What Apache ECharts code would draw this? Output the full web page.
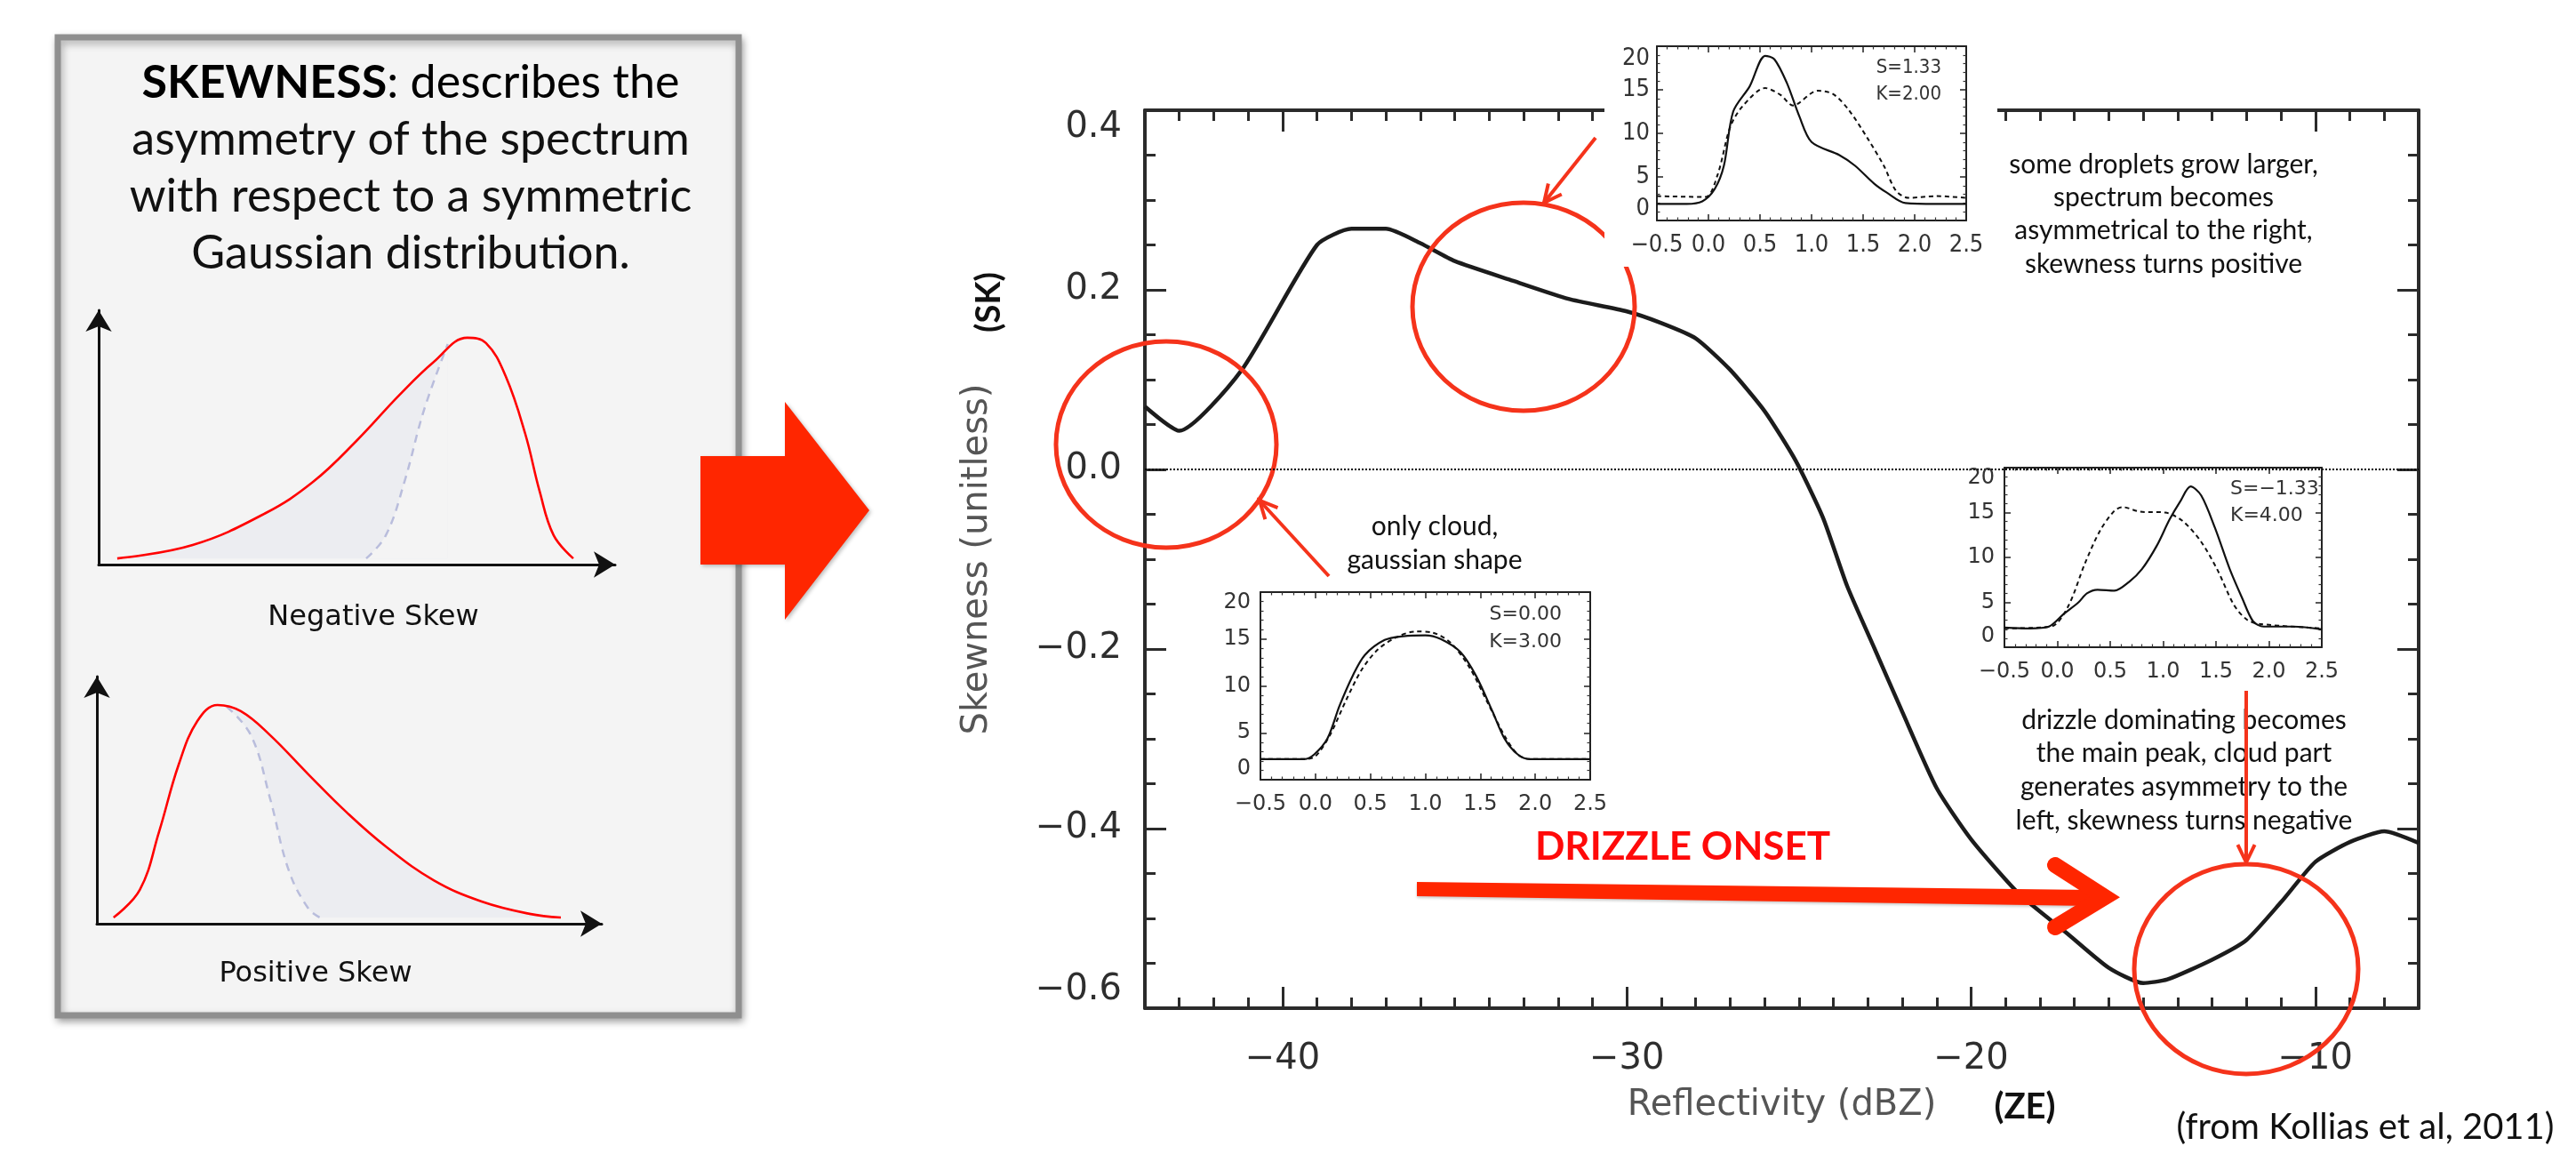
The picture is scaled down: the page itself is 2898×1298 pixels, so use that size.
<!DOCTYPE html>
<html>
<head>
<meta charset="utf-8">
<title>Skewness vs reflectivity</title>
<script src="https://cdn.jsdelivr.net/npm/echarts@6.0.0/dist/echarts.min.js"></script>
<style>
  html, body { margin: 0; padding: 0; background: #fff; }
  #chart { width: 2898px; height: 1298px; }
</style>
</head>
<body>
<div id="chart"></div>
<script>
// main curve: skewness against radar reflectivity
const reflectivity = [-44, -43, -41.2, -39, -38, -37, -36, -35, -33.3, -31.7, -30, -29, -28, -27, -26, -25.1, -24.3, -23.6, -22.8, -22, -21, -20, -18.6, -17.2, -16, -15, -14.3, -13, -12, -11, -10, -9, -8, -7]
const skewness = [0.070, 0.043, 0.110, 0.250, 0.268, 0.268, 0.252, 0.232, 0.210, 0.190, 0.176, 0.163, 0.146, 0.111, 0.065, 0.010, -0.054, -0.130, -0.200, -0.270, -0.355, -0.412, -0.473, -0.517, -0.555, -0.572, -0.568, -0.546, -0.524, -0.482, -0.437, -0.415, -0.403, -0.416]
const xMajorTicks = [-40, -30, -20, -10]

// inset spectra (velocity, power)
const s1SolidX = [-0.5, -0.21, -0.06, 0.06, 0.15, 0.24, 0.40, 0.55, 0.64, 0.76, 0.88, 1.0, 1.27, 1.42, 1.61, 1.73, 1.91, 2.21, 2.5]
const s1SolidY = [1.9, 1.9, 2.2, 3.6, 6.3, 12.5, 15.4, 18.9, 18.5, 15.8, 12.0, 9.0, 7.5, 6.3, 4.2, 3.2, 2.0, 1.9, 1.9]
const s1DashX = [-0.5, -0.03, 0.09, 0.21, 0.33, 0.55, 0.70, 0.82, 1.06, 1.21, 1.36, 1.55, 1.70, 1.82, 1.94, 2.21, 2.5]
const s1DashY = [2.8, 2.7, 5.3, 10.7, 13.1, 15.2, 14.4, 13.2, 14.9, 14.5, 12.7, 9.3, 6.3, 3.4, 2.6, 2.8, 2.6]

const s2SolidX = [-0.5, -0.1, -0.01, 0.11, 0.22, 0.34, 0.45, 0.63, 0.80, 1.0, 1.14, 1.32, 1.46, 1.61, 1.72, 1.84, 1.95, 2.5]
const s2SolidY = [2.2, 2.2, 2.7, 4.4, 7.9, 11.1, 13.3, 14.9, 15.3, 15.4, 15.0, 13.6, 11.1, 7.3, 4.4, 2.7, 2.2, 2.2]
const s2DashX = [-0.5, -0.1, 0.0, 0.13, 0.28, 0.42, 0.57, 0.74, 0.91, 1.06, 1.23, 1.40, 1.58, 1.72, 1.84, 1.95, 2.5]
const s2DashY = [2.2, 2.2, 2.5, 4.7, 8.5, 11.7, 13.9, 15.2, 15.8, 15.7, 14.6, 12.0, 7.9, 4.7, 2.7, 2.2, 2.2]

const s3SolidX = [-0.5, -0.26, -0.08, 0.06, 0.20, 0.28, 0.38, 0.54, 0.68, 0.80, 0.94, 1.06, 1.16, 1.26, 1.36, 1.49, 1.63, 1.75, 1.85, 1.95, 2.23, 2.5]
const s3SolidY = [2.2, 2.1, 2.3, 3.7, 5.0, 6.0, 6.4, 6.3, 7.3, 8.7, 11.3, 14.2, 16.2, 17.9, 16.9, 13.3, 8.7, 5.4, 2.9, 2.3, 2.3, 2.0]
const s3DashX = [-0.5, -0.06, 0.10, 0.26, 0.40, 0.54, 0.62, 0.78, 1.02, 1.18, 1.35, 1.51, 1.67, 1.79, 1.91, 2.5]
const s3DashY = [2.1, 2.3, 4.5, 9.3, 12.9, 15.2, 15.6, 15.1, 15.0, 14.1, 11.9, 8.7, 4.7, 3.1, 2.6, 2.1]

// sketch curves of the left panel (arbitrary units 0..10)
const negRedX = [0.36, 1.82, 3.22, 4.15, 4.99, 5.83, 6.49, 7.14, 7.50, 7.88, 8.26, 8.54, 8.81, 9.19]
const negRedY = [0.24, 0.77, 2.01, 3.25, 4.86, 6.68, 7.97, 8.92, 8.71, 7.41, 5.14, 2.87, 1.15, 0.24]
const negDashX = [5.18, 5.56, 5.92, 6.30, 6.76]
const negDashY = [0.24, 1.15, 3.25, 6.08, 8.67]
const posRedX = [0.33, 0.85, 1.23, 1.62, 1.99, 2.39, 2.85, 3.43, 4.19, 4.95, 5.72, 6.67, 7.62, 8.57, 9.19]
const posRedY = [0.25, 1.37, 3.71, 6.44, 8.20, 8.85, 8.60, 7.63, 6.04, 4.50, 3.13, 1.76, 0.90, 0.40, 0.25]
const posDashX = [2.57, 3.05, 3.43, 3.80, 4.19, 4.42]
const posDashY = [8.78, 7.63, 5.07, 2.16, 0.61, 0.25]

const zip = (xs, ys) => xs.map((x, i) => [x, ys[i]])
const fmtDec = v => (v < 0 ? '\u2212' : '') + Math.abs(v).toFixed(1)
const fmtInt = v => (v < 0 ? '\u2212' : '') + Math.abs(v)

const AX = '#2b2b2b'
const RED = '#f5331b'
const HERSHEY = "'DejaVu Sans', sans-serif"
const NARROW = "'Liberation Sans Narrow', 'DejaVu Sans Condensed', 'DejaVu Sans', sans-serif"
const CAL = "Lato, 'Open Sans', sans-serif"

const xAxes = []
const yAxes = []
const addX = cfg => { xAxes.push(Object.assign({ type: 'value', splitLine: { show: false } }, cfg)); return xAxes.length - 1 }
const addY = cfg => { yAxes.push(Object.assign({ type: 'value', splitLine: { show: false } }, cfg)); return yAxes.length - 1 }

// main plot: box axes with long major / short minor ticks on every side
const mainLine = { show: true, onZero: false, lineStyle: { color: AX, width: 4 } }
const noLine = { show: false, onZero: false }
const shortTick = { show: true, inside: true, length: 12, lineStyle: { color: AX, width: 3 } }
const longTick = { show: true, inside: true, length: 24, customValues: xMajorTicks, lineStyle: { color: AX, width: 3 } }
const mainX = addX({
  gridIndex: 0, position: 'bottom', min: -44, max: -7, interval: 1,
  axisLine: mainLine, axisTick: shortTick,
  axisLabel: { customValues: xMajorTicks, formatter: fmtInt, margin: 38, fontFamily: HERSHEY, fontSize: 40, color: '#2e2e2e' },
  name: 'Reflectivity (dBZ)', nameLocation: 'middle', nameGap: 90,
  nameTextStyle: { fontFamily: HERSHEY, fontSize: 40, color: '#555' }
})
addX({ gridIndex: 0, position: 'bottom', min: -44, max: -7, interval: 1, axisLine: noLine, axisTick: longTick, axisLabel: { show: false } })
addX({ gridIndex: 0, position: 'top', min: -44, max: -7, interval: 1, axisLine: mainLine, axisTick: shortTick, axisLabel: { show: false } })
addX({ gridIndex: 0, position: 'top', min: -44, max: -7, interval: 1, axisLine: noLine, axisTick: longTick, axisLabel: { show: false } })
const yMain = {
  min: -0.6, max: 0.4, interval: 0.2, axisLine: mainLine,
  axisTick: { show: true, inside: true, length: 24, lineStyle: { color: AX, width: 3 } },
  minorTick: { show: true, splitNumber: 4, length: 12, lineStyle: { color: AX, width: 3 } }
}
const mainY = addY(Object.assign({
  gridIndex: 0, position: 'left',
  axisLabel: { formatter: fmtDec, margin: 26, fontFamily: HERSHEY, fontSize: 40, color: '#2e2e2e', verticalAlignMaxLabel: 'top', verticalAlignMinLabel: 'bottom' },
  name: 'Skewness (unitless)', nameLocation: 'middle', nameGap: 168, nameRotate: 90,
  nameTextStyle: { fontFamily: HERSHEY, fontSize: 40, color: '#555' }
}, yMain))
addY(Object.assign({ gridIndex: 0, position: 'right', axisLabel: { show: false } }, yMain))

// small IDL-style spectrum boxes
function insetAxes (grid, font, size, xMargin, yMargin) {
  const line = { show: true, onZero: false, lineStyle: { color: '#222', width: 2 } }
  const tick = { show: true, inside: true, length: 7, lineStyle: { color: '#222', width: 1.5 } }
  const minor = { show: true, splitNumber: 5, length: 3.5, lineStyle: { color: '#333', width: 1.2 } }
  const lab = { fontFamily: font, fontSize: size, color: '#333' }
  const xr = { gridIndex: grid, z: 6, min: -0.5, max: 2.5, interval: 0.5, axisLine: line, axisTick: tick, minorTick: minor }
  const yr = { gridIndex: grid, z: 6, min: 0, max: 20, interval: 5, axisLine: line, axisTick: tick, minorTick: minor }
  const xi = addX(Object.assign({ position: 'bottom', axisLabel: Object.assign({ margin: xMargin, formatter: fmtDec }, lab) }, xr))
  addX(Object.assign({ position: 'top', axisLabel: { show: false } }, xr))
  const yi = addY(Object.assign({ position: 'left', axisLabel: Object.assign({ margin: yMargin, verticalAlignMaxLabel: 'top', verticalAlignMinLabel: 'bottom' }, lab) }, yr))
  addY(Object.assign({ position: 'right', axisLabel: { show: false } }, yr))
  return [xi, yi]
}
const in1 = insetAxes(1, NARROW, 27, 14, 8)
const in2 = insetAxes(2, HERSHEY, 24, 16, 11)
const in3 = insetAxes(3, HERSHEY, 24, 16, 11)

// arrow axes of the left sketches
function sketchAxes (grid) {
  const line = { show: true, onZero: false, symbol: ['none', 'arrow'], symbolSize: [22, 24], lineStyle: { color: '#111', width: 3 } }
  const base = { gridIndex: grid, z: 3, min: 0, max: 10, axisLine: line, axisTick: { show: false }, axisLabel: { show: false } }
  return [addX(Object.assign({}, base)), addY(Object.assign({}, base))]
}
const skNeg = sketchAxes(4)
const skPos = sketchAxes(5)

const negJoin = [negDashX[negDashX.length - 1], negDashY[negDashY.length - 1]]
const negFill = zip(negRedX, negRedY).filter(p => p[0] < negJoin[0]).concat([negJoin])
const posJoin = [posDashX[0], posDashY[0]]
const posFill = [posJoin].concat(zip(posRedX, posRedY).filter(p => p[0] > posJoin[0]))

function spectrum (ax, xs, ys, dashed) {
  return {
    type: 'line', xAxisIndex: ax[0], yAxisIndex: ax[1], z: 6, data: zip(xs, ys),
    showSymbol: false, smooth: 0.3, silent: true,
    lineStyle: { color: '#111', width: dashed ? 2 : 2.2, type: dashed ? [5, 4] : 'solid' }
  }
}
function sketch (ax, data, opt) {
  return Object.assign({ type: 'line', xAxisIndex: ax[0], yAxisIndex: ax[1], data: data, showSymbol: false, smooth: 0.4, silent: true }, opt)
}

const series = [
  {
    type: 'line', xAxisIndex: mainX, yAxisIndex: mainY, z: 1,
    data: zip(reflectivity, skewness), showSymbol: false, smooth: 0.2, silent: true,
    lineStyle: { color: '#1c1c1c', width: 4.5 },
    markLine: {
      silent: true, symbol: ['none', 'none'], label: { show: false },
      lineStyle: { type: [2, 2], color: '#000', width: 2 },
      data: [{ yAxis: 0 }]
    }
  },
  spectrum(in1, s1SolidX, s1SolidY, false),
  spectrum(in1, s1DashX, s1DashY, true),
  spectrum(in2, s2SolidX, s2SolidY, false),
  spectrum(in2, s2DashX, s2DashY, true),
  spectrum(in3, s3SolidX, s3SolidY, false),
  spectrum(in3, s3DashX, s3DashY, true),
  // negative skew sketch: shaded tail, masked under the dashed gaussian
  sketch(skNeg, negFill, { z: 2, lineStyle: { width: 0 }, areaStyle: { color: '#ecedf1', opacity: 1, origin: 0.24 } }),
  sketch(skNeg, zip(negDashX, negDashY), { z: 3, lineStyle: { color: '#b9bddc', width: 2.5, type: [9, 7] }, areaStyle: { color: '#f4f4f4', opacity: 1, origin: 0.24 } }),
  sketch(skNeg, zip(negRedX, negRedY), { z: 4, lineStyle: { color: '#f00', width: 2.6 } }),
  sketch(skPos, posFill, { z: 2, lineStyle: { width: 0 }, areaStyle: { color: '#ecedf1', opacity: 1, origin: 0.25 } }),
  sketch(skPos, zip(posDashX, posDashY), { z: 3, lineStyle: { color: '#b9bddc', width: 2.5, type: [9, 7] }, areaStyle: { color: '#f4f4f4', opacity: 1, origin: 0.25 } }),
  sketch(skPos, zip(posRedX, posRedY), { z: 4, lineStyle: { color: '#f00', width: 2.6 } })
]

// annotation helpers
function arrow (x1, y1, x2, y2) {
  const a = Math.atan2(y2 - y1, x2 - x1)
  const L = 22
  const h1 = [x2 - L * Math.cos(a - 0.45), y2 - L * Math.sin(a - 0.45)]
  const h2 = [x2 - L * Math.cos(a + 0.45), y2 - L * Math.sin(a + 0.45)]
  return [
    { type: 'line', z: 9, shape: { x1: x1, y1: y1, x2: x2, y2: y2 }, style: { stroke: RED, lineWidth: 4 } },
    { type: 'polyline', z: 9, shape: { points: [h1, [x2, y2], h2] }, style: { stroke: RED, lineWidth: 4, fill: 'none' } }
  ]
}
function txt (x, y, text, font, extra) {
  return Object.assign({ type: 'text', z: 8, x: x, y: y, style: { text: text, font: font, fill: '#111', align: 'center', verticalAlign: 'middle' } }, extra || {})
}
function side (x, y, text, font, align) {
  return txt(x, y, text, font, { style: { text: text, font: font, fill: '#333', align: align, verticalAlign: 'middle' } })
}
function ring (cx, cy, rx, ry) {
  return { type: 'ellipse', z: 2, shape: { cx: cx, cy: cy, rx: rx, ry: ry }, style: { stroke: RED, lineWidth: 5, fill: 'none' } }
}
function cover (x, y, w, h) {
  return { type: 'rect', z: 3, shape: { x: x, y: y, width: w, height: h }, style: { fill: '#fff' } }
}

const note = '30px ' + CAL
const head = '52px ' + CAL
const graphic = [
  { type: 'rect', z: 0, shape: { x: 65, y: 42, width: 766, height: 1100 }, style: { fill: '#f4f4f4', stroke: '#8f8f8f', lineWidth: 7, shadowBlur: 8, shadowOffsetX: 2, shadowOffsetY: 4, shadowColor: 'rgba(0,0,0,0.3)' } },
  txt(462, 93, '', head, { style: { text: '{b|SKEWNESS}: describes the', font: head, fill: '#000', align: 'center', verticalAlign: 'middle', rich: { b: { fontWeight: 'bold', fontFamily: CAL, fontSize: 52, fill: '#000' } } } }),
  txt(462, 157, 'asymmetry of the spectrum', head),
  txt(462, 221, 'with respect to a symmetric', head),
  txt(462, 285, 'Gaussian distribution.', head),
  txt(420, 695, 'Negative Skew', '32px ' + HERSHEY),
  txt(355, 1096, 'Positive Skew', '32px ' + HERSHEY),

  { type: 'polygon', z: 10, shape: { points: [[788, 513], [883, 513], [883, 452], [978, 574], [883, 697], [883, 635], [788, 635]] }, style: { fill: '#ff2600', shadowBlur: 4, shadowOffsetX: 2, shadowOffsetY: 2, shadowColor: 'rgba(0,0,0,0.25)' } },

  ring(1312, 500, 124, 116),
  ring(1714, 345, 125, 117),
  ring(2527, 1090, 126, 118),
  cover(1805, 0, 442, 300),
  cover(1372, 645, 460, 280),
  cover(2198, 505, 453, 270),

  txt(1113, 340, '(SK)', 'bold 38px ' + CAL, { rotation: Math.PI / 2 }),
  txt(2278, 1245, '(ZE)', 'bold 40px ' + CAL),
  txt(2661, 1268, '(from Kollias et al, 2011)', '40px ' + CAL),

  txt(1614, 592, 'only cloud,', note),
  txt(1614, 630, 'gaussian shape', note),
  txt(2434, 185, 'some droplets grow larger,', note),
  txt(2434, 222, 'spectrum becomes', note),
  txt(2434, 259, 'asymmetrical to the right,', note),
  txt(2434, 297, 'skewness turns positive', note),
  txt(2457, 810, 'drizzle dominating becomes', note),
  txt(2457, 847, 'the main peak, cloud part', note),
  txt(2457, 885, 'generates asymmetry to the', note),
  txt(2457, 923, 'left, skewness turns negative', note),

  side(2184, 76, 'S=1.33', '22px ' + NARROW, 'right'),
  side(2184, 106, 'K=2.00', '22px ' + NARROW, 'right'),
  side(1757, 691, 'S=0.00', '22px ' + HERSHEY, 'right'),
  side(1757, 722, 'K=3.00', '22px ' + HERSHEY, 'right'),
  side(2509, 550, 'S=\u22121.33', '22px ' + HERSHEY, 'left'),
  side(2509, 580, 'K=4.00', '22px ' + HERSHEY, 'left'),

  txt(1893, 953, '', 'bold 44px ' + CAL, { style: { text: 'DRIZZLE ONSET', font: 'bold 44px ' + CAL, fill: '#ff0a0a', align: 'center', verticalAlign: 'middle' } }),
  { type: 'polygon', z: 9, shape: { points: [[1594, 992], [2352, 1001], [2352, 1019], [1594, 1008]] }, style: { fill: '#ff2600', shadowBlur: 3, shadowOffsetY: 2, shadowColor: 'rgba(0,0,0,0.2)' } },
  { type: 'polyline', z: 9, shape: { points: [[2312, 973], [2368, 1009], [2312, 1043]] }, style: { stroke: '#ff2600', lineWidth: 18, lineCap: 'round', lineJoin: 'miter', fill: 'none' } }
].concat(arrow(1495, 648, 1417, 563), arrow(1795, 155, 1737, 228), arrow(2527, 777, 2527, 970))

const chart = echarts.init(document.getElementById('chart'))
chart.setOption({
  animation: false,
  backgroundColor: '#fff',
  grid: [
    { left: 1288, right: 177, top: 124, bottom: 164, outerBoundsMode: 'none' },
    { left: 1864, right: 686, top: 52, bottom: 1050, outerBoundsMode: 'none' },
    { left: 1418, right: 1109, top: 666, bottom: 421, outerBoundsMode: 'none' },
    { left: 2255, right: 286, top: 526, bottom: 570, outerBoundsMode: 'none' },
    { left: 111, right: 2206, top: 349, bottom: 663, outerBoundsMode: 'none' },
    { left: 109, right: 2221, top: 761, bottom: 259, outerBoundsMode: 'none' }
  ],
  xAxis: xAxes,
  yAxis: yAxes,
  series: series,
  graphic: graphic
})
</script>
</body>
</html>
